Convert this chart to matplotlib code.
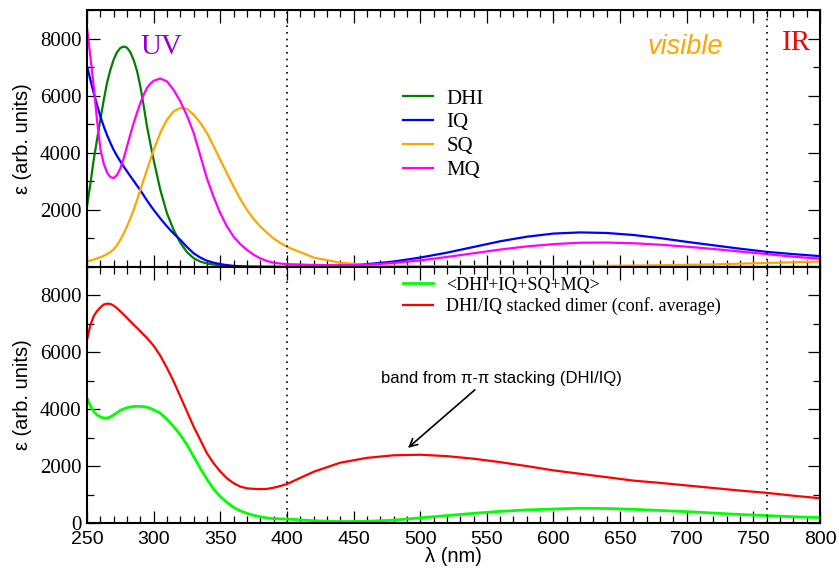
import numpy as np
import matplotlib
matplotlib.use("Agg")
import matplotlib.pyplot as plt
from matplotlib.ticker import MultipleLocator

plt.rcParams['font.family'] = ['Liberation Sans', 'DejaVu Sans']

# wavelength grid (nm)
wl = [250, 252.5, 255, 257.5, 260, 262.5, 265, 267.5, 270, 272.5, 275, 277.5, 280, 282.5,
      285, 287.5, 290, 292.5, 295, 297.5, 300,
      305, 310, 315, 320, 325, 330, 335, 340, 345, 350, 355, 360, 365, 370, 375, 380,
      385, 390, 395, 400,
      420, 440, 460, 480, 500, 520, 540, 560, 580, 600, 620, 640, 660, 680, 700,
      720, 740, 760, 780, 800]

# top panel: single molecules
dhi = [2120, 2900, 3750, 4450, 5160, 5830, 6440, 6900, 7260, 7520, 7670, 7720, 7680, 7520,
       7250, 6870, 6330, 5650, 4920, 4330, 3750,
       2700, 1880, 1300, 850, 520, 310, 190, 120, 85, 60, 40, 25, 15, 10, 8, 6,
       5, 4, 3, 2,
       0, 0, 0, 0, 0, 0, 0, 0, 0, 0, 0, 0, 0, 0, 0,
       0, 0, 0, 0, 0]
iq = [7030, 6560, 6100, 5680, 5280, 4930, 4620, 4350, 4100, 3890, 3700, 3520, 3350, 3180,
      3020, 2850, 2690, 2510, 2330, 2160, 2000,
      1700, 1420, 1170, 950, 700, 480, 330, 220, 150, 100, 65, 40, 25, 15, 10, 8,
      6, 5, 5, 5,
      20, 45, 100, 190, 330, 500, 700, 900, 1060, 1170, 1210, 1190, 1120, 1010, 880,
      760, 640, 530, 450, 380]
sq = [190, 225, 260, 300, 340, 390, 450, 520, 620, 760, 950, 1170, 1420, 1700,
      2000, 2340, 2700, 3050, 3400, 3750, 4100,
      4700, 5160, 5450, 5570, 5540, 5330, 5050, 4690, 4230, 3750, 3280, 2820, 2380, 2000, 1680, 1420,
      1200, 1000, 840, 710,
      330, 150, 70, 40, 30, 30, 30, 30, 30, 30, 35, 40, 50, 60, 75,
      90, 115, 140, 165, 190]
mq = [8370, 7380, 6330, 5160, 4150, 3620, 3310, 3150, 3110, 3220, 3450, 3800, 4220, 4640,
      5040, 5400, 5740, 6030, 6270, 6420, 6520,
      6600, 6500, 6200, 5800, 5300, 4700, 3900, 3100, 2450, 1880, 1420, 1060, 800, 600, 430, 300,
      210, 150, 120, 100,
      70, 60, 80, 140, 230, 350, 480, 610, 720, 800, 850, 855, 830, 780, 710,
      630, 540, 450, 360, 290]

# bottom panel: average and stacked dimer
avg = [4390, 4120, 3920, 3800, 3730, 3690, 3690, 3730, 3800, 3880, 3960, 4010, 4050, 4080,
       4095, 4100, 4100, 4090, 4070, 4030, 3980,
       3860, 3650, 3390, 3100, 2750, 2340, 1920, 1540, 1190, 930, 720, 550, 430, 340, 270, 220,
       180, 155, 145, 140,
       80, 50, 60, 100, 180, 260, 340, 410, 460, 490, 520, 510, 480, 440, 400,
       350, 300, 260, 220, 190]
dimer = [6440, 6950, 7270, 7450, 7580, 7680, 7710, 7700, 7640, 7550, 7440, 7330, 7210, 7090,
         6970, 6860, 6740, 6620, 6500, 6370, 6230,
         5880, 5450, 4980, 4450, 3920, 3390, 2920, 2450, 2100, 1810, 1570, 1400, 1280, 1220, 1200, 1190,
         1200, 1240, 1300, 1370,
         1800, 2120, 2290, 2380, 2400, 2350, 2260, 2140, 2000, 1850, 1730, 1610, 1490, 1410, 1320,
         1230, 1140, 1060, 960, 870]

fig = plt.figure(figsize=(8.39, 5.76), dpi=100)
ax1 = fig.add_axes([0.1037, 0.5365, 0.8737, 0.4462])
ax2 = fig.add_axes([0.1037, 0.0920, 0.8737, 0.4445])

ax1.plot(wl, dhi, color='#008000', lw=1.6, label='DHI')
ax1.plot(wl, iq, color='#0000ff', lw=1.6, label='IQ')
ax1.plot(wl, sq, color='#ffa500', lw=1.6, label='SQ')
ax1.plot(wl, mq, color='#ff00ff', lw=1.6, label='MQ')

ax2.plot(wl, avg, color='#00ff00', lw=2.0, label='<DHI+IQ+SQ+MQ>')
ax2.plot(wl, dimer, color='#ff0000', lw=1.6, label='DHI/IQ stacked dimer (conf. average)')

for ax in (ax1, ax2):
    ax.set_xlim(250, 800)
    ax.set_ylim(0, 9000)
    ax.axvline(400, color='k', ls=(0, (1, 3)), lw=1.2)
    ax.axvline(760, color='k', ls=(0, (1, 3)), lw=1.2)
    ax.xaxis.set_major_locator(MultipleLocator(50))
    ax.xaxis.set_minor_locator(MultipleLocator(10))
    ax.yaxis.set_minor_locator(MultipleLocator(1000))
    ax.tick_params(which='both', direction='in', top=True, right=True, width=0.9)
    ax.tick_params(which='major', length=9)
    ax.tick_params(which='minor', length=5)
    ax.tick_params(axis='y', labelsize=15, labelfontfamily='Liberation Serif', pad=4)
    ax.tick_params(axis='x', labelsize=14, pad=6)
    for s in ax.spines.values():
        s.set_linewidth(1.5)
    ax.set_ylabel('ε (arb. units)', fontsize=14.5)
    ax.yaxis.set_label_coords(-0.075, 0.5)

ax1.set_yticks([2000, 4000, 6000, 8000])
ax1.tick_params(labelbottom=False)
ax2.set_yticks([0, 2000, 4000, 6000, 8000])
ax2.set_xlabel('λ (nm)', fontsize=14.5)
ax2.xaxis.set_label_coords(0.5, -0.095)

ax1.legend(loc='upper left', bbox_to_anchor=(0.431, 0.692), frameon=False,
           prop={'family': 'Liberation Serif', 'size': 15}, borderpad=0, borderaxespad=0,
           handlelength=1.45, handletextpad=0.65, labelspacing=0.2)
ax2.legend(loc='upper left', bbox_to_anchor=(0.431, 0.962), frameon=False,
           prop={'family': 'Liberation Serif', 'size': 13}, borderpad=0, borderaxespad=0,
           handlelength=1.65, handletextpad=0.75, labelspacing=0.2)

ax1.text(306, 7720, 'UV', color='#9400d3', fontsize=21, family='Liberation Serif',
         ha='center', va='center')
ax1.text(699, 7720, 'visible', color='#ffa500', fontsize=19.5, style='italic',
         ha='center', va='center')
ax1.text(782, 7860, 'IR', color='#ff0000', fontsize=21, family='Liberation Serif',
         ha='center', va='center')

ax2.text(470.5, 5080, 'band from π-π stacking (DHI/IQ)', fontsize=12, ha='left', va='center')
ax2.annotate('', xy=(490.8, 2640), xytext=(541, 4680),
             arrowprops=dict(arrowstyle='->', lw=1.2, color='k', mutation_scale=14,
                             shrinkA=0, shrinkB=0))

fig.savefig('out.png', dpi=100)
